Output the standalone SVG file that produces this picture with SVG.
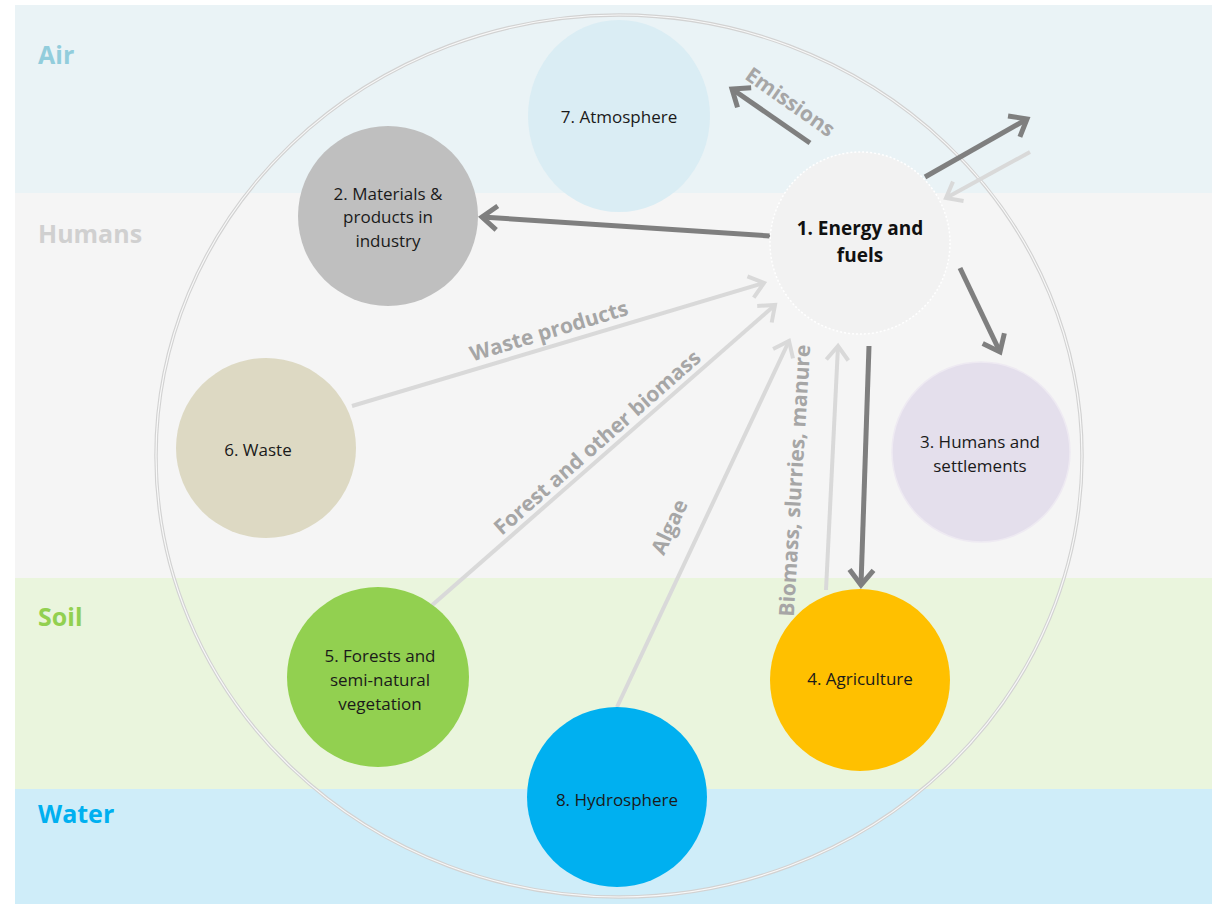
<svg xmlns="http://www.w3.org/2000/svg" width="1212" height="904" viewBox="0 0 1212 904">
  <defs>
    <style>
      .band-label { font-family: "Open Sans", "Liberation Sans", sans-serif; font-weight: bold; font-size: 25px; }
      .node-text { font-family: "Open Sans", "Liberation Sans", sans-serif; font-size: 17px; fill: #1a1a1a; text-anchor: middle; }
      .node-bold { font-weight: bold; font-size: 19px; fill: #111; }
      .edge-label { font-family: "Open Sans", "Liberation Sans", sans-serif; font-weight: bold; font-size: 21px; fill: #a6a6a6; text-anchor: middle; }
      .dark { stroke: #7f7f7f; stroke-width: 5; fill: none; marker-end: url(#arrDark); }
      .light { stroke: #d9d9d9; stroke-width: 4; fill: none; marker-end: url(#arrLight); }
      .node { stroke: none; }
    </style>
    <marker id="arrDark" markerUnits="userSpaceOnUse" markerWidth="40" markerHeight="40" refX="0" refY="0" orient="auto" overflow="visible">
      <path d="M -15 -12 L 0 0 L -15 12" fill="none" stroke="#7f7f7f" stroke-width="5" stroke-linejoin="miter"/>
    </marker>
    <marker id="arrLight" markerUnits="userSpaceOnUse" markerWidth="40" markerHeight="40" refX="0" refY="0" orient="auto" overflow="visible">
      <path d="M -14 -11 L 0 0 L -14 11" fill="none" stroke="#d9d9d9" stroke-width="4" stroke-linejoin="miter"/>
    </marker>
  </defs>

  <rect x="0" y="0" width="1212" height="904" fill="#ffffff"/>

  <g id="bands">
    <rect x="15" y="5" width="1197" height="188" fill="#eaf3f6"/>
    <rect x="15" y="193" width="1197" height="385" fill="#f5f5f5"/>
    <rect x="15" y="578" width="1197" height="211" fill="#eaf5dd"/>
    <rect x="15" y="789" width="1197" height="115" fill="#cfedf9"/>
    <text class="band-label" x="38" y="64" fill="#92cddc">Air</text>
    <text class="band-label" x="38" y="243" fill="#d0d0d0">Humans</text>
    <text class="band-label" x="38" y="626" fill="#92d050">Soil</text>
    <text class="band-label" x="38" y="823" fill="#00b0f0">Water</text>
  </g>

  <g id="outer-ring">
    <ellipse cx="619" cy="456" rx="463" ry="441" fill="none" stroke="#d2d2d2" stroke-width="3.5"/>
    <ellipse cx="619" cy="456" rx="463" ry="441" fill="none" stroke="#f8f8f8" stroke-width="1.2"/>
  </g>

  <g id="connectors">
    <path class="dark" d="M810,143 L732,89"/>
    <path class="dark" d="M925,177 L1027,119"/>
    <path class="dark" d="M770,236 L482,217"/>
    <path class="dark" d="M960,268 L1000,352"/>
    <path class="dark" d="M869,346 L861,585"/>
    <path class="light" d="M1030,152 L946,198"/>
    <path class="light" d="M352,406 L764,283"/>
    <path class="light" d="M430,607 L775,305"/>
    <path class="light" d="M617,707 L789,341"/>
    <path class="light" d="M826,590 L838,346"/>
    <text class="edge-label" transform="translate(786,108) rotate(35)">Emissions</text>
    <text class="edge-label" transform="translate(551,338) rotate(-16.7)">Waste products</text>
    <text class="edge-label" transform="translate(602,448) rotate(-41.3)">Forest and other biomass</text>
    <text class="edge-label" transform="translate(676,530) rotate(-64.7)">Algae</text>
    <text class="edge-label" transform="translate(802,481) rotate(-86.5)">Biomass, slurries, manure</text>
  </g>

  <g id="node7">
    <ellipse class="node" cx="619" cy="116" rx="91" ry="96" fill="#daedf4" stroke="#ffffff" stroke-width="1"/>
    <text class="node-text" x="619" y="123">7. Atmosphere</text>
  </g>
  <g id="node2">
    <ellipse class="node" cx="388" cy="216" rx="90" ry="90" fill="#bfbfbf"/>
    <text class="node-text" x="388" y="200">2. Materials &amp;</text>
    <text class="node-text" x="388" y="223">products in</text>
    <text class="node-text" x="388" y="247">industry</text>
  </g>
  <g id="node1">
    <ellipse cx="860" cy="243" rx="90" ry="91" fill="#f2f2f2" stroke="#ffffff" stroke-width="1.5" stroke-dasharray="2 2"/>
    <text class="node-text node-bold" x="860" y="235">1. Energy and</text>
    <text class="node-text node-bold" x="860" y="262">fuels</text>
  </g>
  <g id="node6">
    <ellipse class="node" cx="266" cy="448" rx="90" ry="90" fill="#ddd9c3"/>
    <text class="node-text" x="258" y="456">6. Waste</text>
  </g>
  <g id="node3">
    <ellipse cx="981" cy="452" rx="89" ry="90" fill="#e4dfec" stroke="#eeeaf2" stroke-width="1.5"/>
    <text class="node-text" x="980" y="448">3. Humans and</text>
    <text class="node-text" x="980" y="472">settlements</text>
  </g>
  <g id="node5">
    <ellipse class="node" cx="378" cy="677" rx="91" ry="90" fill="#92d050"/>
    <text class="node-text" x="380" y="662">5. Forests and</text>
    <text class="node-text" x="380" y="686">semi-natural</text>
    <text class="node-text" x="380" y="710">vegetation</text>
  </g>
  <g id="node8">
    <ellipse class="node" cx="617" cy="797" rx="90" ry="90" fill="#00b0f0"/>
    <text class="node-text" x="617" y="806">8. Hydrosphere</text>
  </g>
  <g id="node4">
    <ellipse class="node" cx="860" cy="680" rx="90" ry="91" fill="#ffc000"/>
    <text class="node-text" x="860" y="685">4. Agriculture</text>
  </g>
</svg>
